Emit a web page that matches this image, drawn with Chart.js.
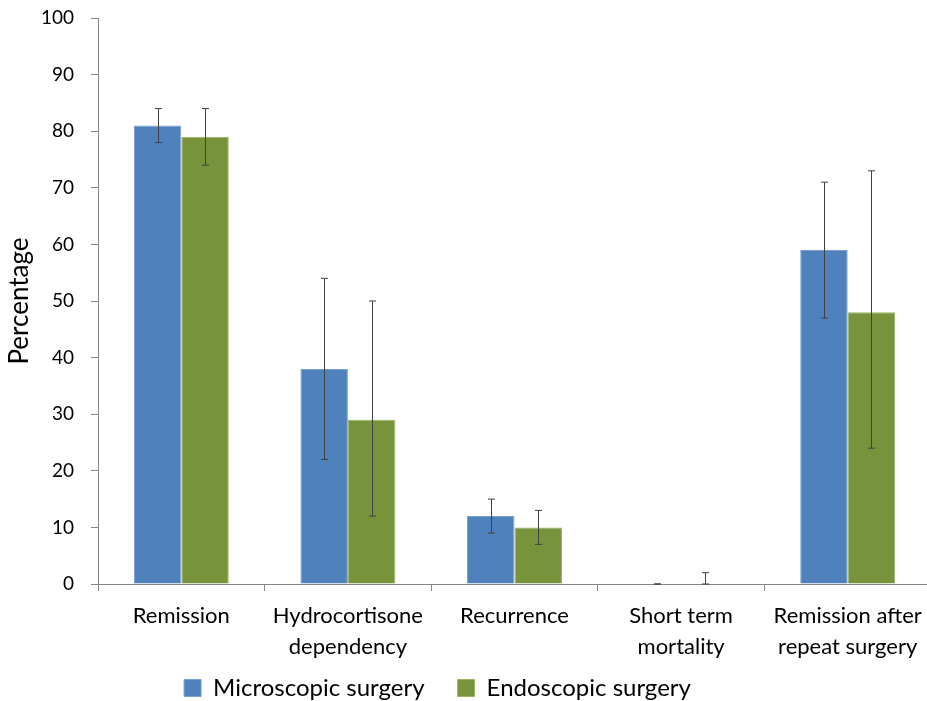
<!DOCTYPE html>
<html>
<head>
<meta charset="utf-8">
<title>Surgery outcomes</title>
<script src="https://cdn.jsdelivr.net/npm/chart.js@4.4.1/dist/chart.umd.min.js"></script>
<style>
  html, body { margin: 0; padding: 0; background: #fff; overflow: hidden; }
  #wrap { width: 931px; height: 701px; position: relative; }
</style>
</head>
<body>
<div id="wrap"><canvas id="outcome-chart"></canvas></div>
<script>
const categories = [
    'Remission',
    ['Hydrocortisone', 'dependency'],
    'Recurrence',
    ['Short term', 'mortality'],
    ['Remission after', 'repeat surgery']
];
const microscopic = [81, 38, 12, 0, 59];
const microscopicLow = [78, 22, 9, 0, 47];
const microscopicHigh = [84, 54, 15, 0, 71];
const endoscopic = [79, 29, 10, 0, 48];
const endoscopicLow = [74, 12, 7, 0, 24];
const endoscopicHigh = [84, 50, 13, 2, 73];
const yTicks = [0, 10, 20, 30, 40, 50, 60, 70, 80, 90, 100];

const fontFamily = 'Lato, "Open Sans", sans-serif';
const legendPad = 33;

// whiskers drawn over the bars from the low/high arrays
const errorBars = {
    id: 'errorBars',
    afterDatasetsDraw(chart) {
        const ctx = chart.ctx;
        const yScale = chart.scales.y;
        chart.data.datasets.forEach(function (ds, i) {
            const meta = chart.getDatasetMeta(i);
            meta.data.forEach(function (bar, j) {
                const yLow = yScale.getPixelForValue(ds.errLow[j]);
                const yHigh = yScale.getPixelForValue(ds.errHigh[j]);
                const x = Math.round(bar.x) + 0.5;
                ctx.save();
                ctx.strokeStyle = '#404040';
                ctx.lineWidth = 1;
                ctx.beginPath();
                ctx.moveTo(x, yLow);
                ctx.lineTo(x, yHigh);
                ctx.moveTo(x - 3.5, yLow);
                ctx.lineTo(x + 3.5, yLow);
                ctx.moveTo(x - 3.5, yHigh);
                ctx.lineTo(x + 3.5, yHigh);
                ctx.stroke();
                ctx.restore();
            });
        });
    }
};

// the original legend sits a bit left of centre and close to the bottom edge
const legendShift = {
    id: 'legendShift',
    afterLayout(chart) {
        const lg = chart.legend;
        const h = lg.bottom - lg.top;
        lg.top = 676 - legendPad;
        lg.bottom = lg.top + h;
        lg.left -= 28;
        lg.right -= 28;
    }
};

document.addEventListener("DOMContentLoaded", function () {
    const canvas = document.getElementById('outcome-chart');
    if (!canvas) {
        console.error("Canvas not found.");
        return;
    }
    const ctx = canvas.getContext('2d');
    new Chart(ctx, {
        type: 'bar',
        data: {
            labels: categories,
            datasets: [{
                label: 'Microscopic surgery',
                data: microscopic,
                errLow: microscopicLow,
                errHigh: microscopicHigh,
                backgroundColor: '#4F81BD',
                borderColor: '#7A9FCE',
                borderWidth: 1,
                categoryPercentage: 0.57,
                barPercentage: 1.0
            }, {
                label: 'Endoscopic surgery',
                data: endoscopic,
                errLow: endoscopicLow,
                errHigh: endoscopicHigh,
                backgroundColor: '#77933C',
                borderColor: '#9BB464',
                borderWidth: 1,
                categoryPercentage: 0.57,
                barPercentage: 1.0
            }]
        },
        options: {
            responsive: true,
            maintainAspectRatio: false,
            animation: false,
            layout: { padding: { top: 18, right: 0, left: 0, bottom: -30 } },
            plugins: {
                tooltip: { enabled: false },
                legend: {
                    position: 'bottom',
                    labels: {
                        color: '#000',
                        font: { family: fontFamily, size: 24 },
                        boxWidth: 17,
                        boxHeight: 17,
                        padding: legendPad
                    }
                }
            },
            scales: {
                x: {
                    grid: {
                        display: true,
                        drawOnChartArea: false,
                        drawTicks: true,
                        tickLength: 7,
                        color: '#868686',
                        offset: true
                    },
                    border: { display: true, color: '#868686' },
                    ticks: {
                        color: '#000',
                        font: { family: fontFamily, size: 22, lineHeight: 1.38 },
                        maxRotation: 0,
                        autoSkip: false,
                        padding: 10
                    },
                    afterFit: function (scale) {
                        scale.height = 80;
                        scale.paddingLeft = 0;
                        scale.paddingRight = 0;
                    }
                },
                y: {
                    min: 0,
                    max: 100,
                    afterBuildTicks: function (scale) {
                        scale.ticks = yTicks.map(function (v) { return { value: v }; });
                    },
                    grid: {
                        display: true,
                        drawOnChartArea: false,
                        drawTicks: true,
                        tickLength: 7,
                        color: '#868686'
                    },
                    border: { display: true, color: '#868686' },
                    ticks: {
                        color: '#000',
                        font: { family: fontFamily, size: 19 },
                        padding: 17
                    },
                    title: {
                        display: true,
                        text: 'Percentage',
                        color: '#000',
                        font: { family: fontFamily, size: 26 },
                        padding: { top: 4, bottom: 0 }
                    },
                    afterFit: function (scale) {
                        scale.width = 98;
                        scale.paddingTop = 0;
                        scale.paddingBottom = 0;
                    }
                }
            }
        },
        plugins: [errorBars, legendShift]
    });
});
</script>
</body>
</html>
